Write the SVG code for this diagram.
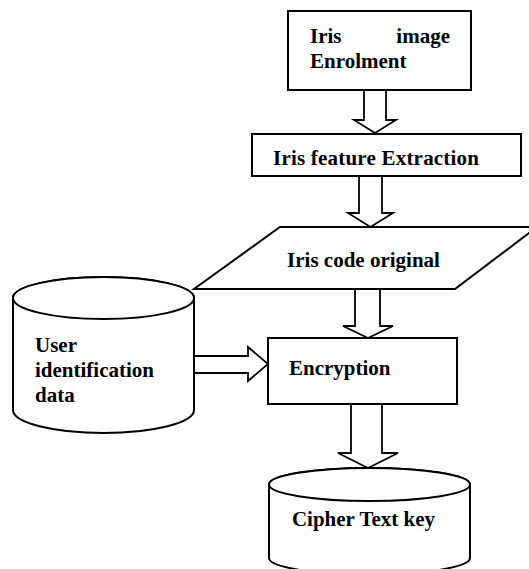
<svg xmlns="http://www.w3.org/2000/svg" width="529" height="569" viewBox="0 0 529 569">
<style>
.s{fill:#fff;stroke:#000;stroke-width:2}
.a{fill:#fff;stroke:#000;stroke-width:1.8;stroke-linejoin:miter}
text{font-family:"Liberation Serif","Times New Roman",serif;font-weight:bold;font-size:21px;fill:#000}
</style>
<rect width="529" height="569" fill="#fff"/>
<g id="connectors">
<polygon class="a" points="364,90 386,90 386,120 396,120 375,133 354,120 364,120"/>
<polygon class="a" points="359,176 382,176 382,213 393,213 370.5,227 348,213 359,213"/>
<polygon class="a" points="355,289 380,289 380,326 393,326 368,338 343,326 355,326"/>
<polygon class="a" points="351,404 382,404 382,453 398,453 368,468 338,453 351,453"/>
<polygon class="a" points="194,356 248,356 248,347 268,364 248,381 248,373 194,373"/>
</g>
<g id="enrolment">
<rect class="s" x="288" y="11" width="183" height="79"/>
<text x="310" y="43">Iris</text>
<text x="450" y="43" text-anchor="end">image</text>
<text x="310" y="68">Enrolment</text>
</g>
<g id="extraction">
<rect class="s" x="252" y="134" width="269" height="42"/>
<text x="376" y="165" text-anchor="middle" textLength="206">Iris feature Extraction</text>
</g>
<g id="iriscode">
<polygon class="s" points="280,227 537,227 455,289 194,289"/>
<text x="363.5" y="267" text-anchor="middle">Iris code original</text>
</g>
<g id="userdata">
<path class="s" d="M13,298 L13,410 A90.5,23 0 0 0 194,410 L194,298 A90.5,21 0 0 0 13,298 Z"/>
<ellipse class="s" cx="103.5" cy="298" rx="90.5" ry="21"/>
<text x="35" y="352">User</text>
<text x="35" y="377">identification</text>
<text x="35" y="402">data</text>
</g>
<g id="encryption">
<rect class="s" x="268" y="338" width="189" height="66"/>
<text x="289" y="375">Encryption</text>
</g>
<g id="cipher">
<path class="s" d="M269,484.5 L269,558 A100.5,16.5 0 0 0 470,558 L470,484.5 A100.5,16.5 0 0 0 269,484.5 Z"/>
<ellipse class="s" cx="369.5" cy="484.5" rx="100.5" ry="16.5"/>
<text x="363.5" y="526" text-anchor="middle">Cipher Text key</text>
</g>
</svg>
